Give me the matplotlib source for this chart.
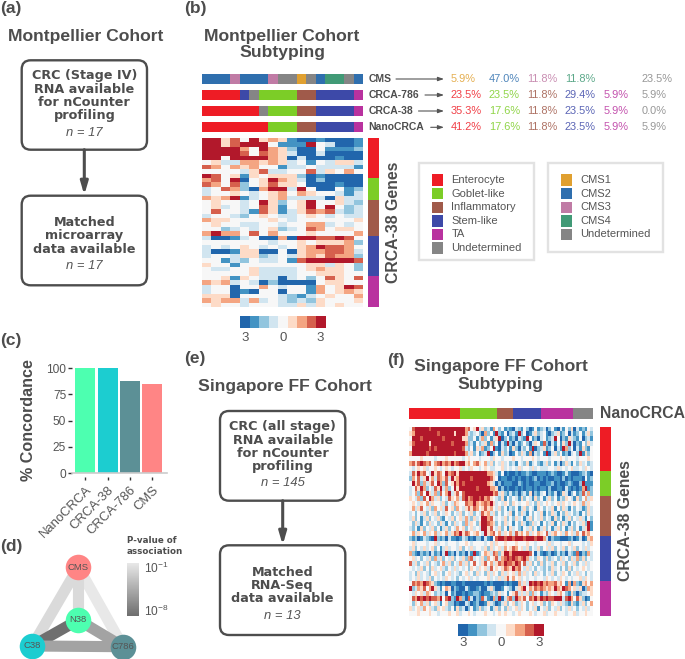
import numpy as np
import matplotlib
matplotlib.use("Agg")
import matplotlib.pyplot as plt
from matplotlib.colors import ListedColormap, LinearSegmentedColormap, Normalize
from matplotlib.patches import FancyBboxPatch, Rectangle

plt.rcParams["font.family"] = ["Liberation Sans", "DejaVu Sans"]
plt.rcParams["mathtext.fontset"] = "custom"
plt.rcParams["mathtext.rm"] = "Liberation Sans"

W, H = 685, 659
TXT = "#4d4d4d"

# data --------------------------------------------------------------------
SUB_COL = {"Enterocyte": "#ee1c25", "Goblet-like": "#7ccd27", "Inflammatory": "#a05a4a",
           "Stem-like": "#3d49a8", "TA": "#b9329f", "Undetermined": "#858585"}
CMS_COL = {"CMS1": "#e0a030", "CMS2": "#2f6fae", "CMS3": "#c07ba5", "CMS4": "#419a76",
           "Undetermined": "#858585"}
HEAT = ["#2166ac", "#4393c3", "#92c5de", "#d1e5f0", "#f7f7f7",
        "#fddbc7", "#f4a582", "#d6604d", "#b2182b"]

# (label, run length) along the 17 Montpellier samples
bar_cms = [("CMS2", 3), ("CMS3", 1), ("CMS2", 3), ("CMS3", 1), ("Undetermined", 2), ("CMS1", 1),
           ("Undetermined", 1), ("CMS2", 1), ("CMS4", 2), ("Undetermined", 1), ("CMS2", 1)]
bar_786 = [("Enterocyte", 4), ("Stem-like", 1), ("Undetermined", 1), ("Goblet-like", 4),
           ("Inflammatory", 2), ("Stem-like", 4), ("TA", 1)]
bar_38 = [("Enterocyte", 6), ("Undetermined", 1), ("Goblet-like", 3),
          ("Inflammatory", 2), ("Stem-like", 4), ("TA", 1)]
bar_nano = [("Enterocyte", 7), ("Goblet-like", 3), ("Inflammatory", 2), ("Stem-like", 4), ("TA", 1)]
bar_sing = [("Enterocyte", 40), ("Goblet-like", 29), ("Inflammatory", 13),
            ("Stem-like", 22), ("TA", 25), ("Undetermined", 16)]
gene_groups = [("Enterocyte", 9), ("Goblet-like", 5), ("Inflammatory", 8), ("Stem-like", 9), ("TA", 7)]

row_names = ["CMS", "CRCA-786", "CRCA-38", "NanoCRCA"]
pct_cms = ["5.9%", "47.0%", "11.8%", "11.8%", "", "23.5%"]
pct_786 = ["23.5%", "23.5%", "11.8%", "29.4%", "5.9%", "5.9%"]
pct_38 = ["35.3%", "17.6%", "11.8%", "23.5%", "5.9%", "0.0%"]
pct_nano = ["41.2%", "17.6%", "11.8%", "23.5%", "5.9%", "5.9%"]

concord_names = ["NanoCRCA", "CRCA-38", "CRCA-786", "CMS"]
concord_vals = [100, 100, 87.5, 84.6]
concord_cols = ["#4dffb0", "#1ccdd0", "#5c9096", "#ff8585"]

# log10 p-value of each pair of classifiers
edge_pairs = [("CMS", "C38"), ("CMS", "C786"), ("CMS", "N38"),
              ("N38", "C38"), ("N38", "C786"), ("C38", "C786")]
edge_logp = [-1.8, -1.0, -1.8, -8.0, -5.0, -5.0]

# expression levels 0 (deep blue) .. 8 (deep red), one string per gene
heat_mont = [
    "88574856510010001", "88578884111843001", "88886486520041112", "88887476530030000",
    "88488886503000100", "45336656534143553", "76465644133433331", "44443573344735464",
    "87451545552010000", "67480458653020000", "76472457554000100", "34762068838400412",
    "34454345646544313", "65681345633330533", "45443485245844532", "45343475145848423",
    "47443175135767323", "34432454334543433", "65544445434444445", "45443344344663434",
    "44234345234764554", "68664746444544446", "30013400608877874", "44444443445455562",
    "34345434345687764", "30015500405667763", "34435523435657662", "44132433417888887",
    "54414444444553542", "43344533334565542", "44444533334455544", "44515433034247547",
    "65634302000045544", "34404464344164587", "34401044044164565", "55504444321345446",
    "65663634323254445", "45443444335354544",
]
# coarse reading of the Singapore heatmap (about two samples per character)
heat_sing = [
    "478888878888 888888886745 835231642412 103214201412 302410314250 312143",
    "568888888878 888858886323 420624182140 231824013523 410235124031 241352",
    "488878888888 788888855224 136241358024 120321841203 412384021532 140231",
    "578888858888 888788886231 423516240318 203124203541 720314152830 214253",
    "488888878788 888888873241 536124810324 152032418023 512403186240 315214",
    "688888788888 888878886352 412380241523 014253160324 180352412034 281524",
    "444454444344 454444434544 434443544344 454434445434 443444543444 344454",
    "675787674678 676867885646 754635243534 231432513421 352413025314 253423",
    "434545344543 454344534354 434543344534 343534435343 334435343453 343543",
    "375867438576 486785888888 888866531401 001011210011 101210013100 012310",
    "264735846376 573856888878 888887540110 010100101201 010011020101 110412",
    "485726357486 274586878888 888865302011 100210100110 011201001210 028111",
    "347586243758 362485888888 788886650201 001010110101 102001103101 016812",
    "346274853627 468357478888 888888673521 312023150213 402130153024 127362",
    "543627486352 437546378678 878675432514 243152431524 135241325431 524635",
    "454354635443 524365447668 656768534354 254344534253 454345354345 436354",
    "463574352645 374526435757 645756435241 324135243154 243514253142 431253",
    "342435243524 354243524352 437563524243 514253142435 142531425342 314253",
    "352413524352 143524536325 348867434352 425341352435 243152413524 353142",
    "425314253425 314253426354 258876524253 414253125341 423514253142 435281",
    "324152435241 352436452453 438857435241 534214352413 524135241352 413581",
    "463546354635 463576857645 643856746354 637564635465 473564536453 647564",
    "212013210821 203110132010 220310478878 878887888788 630211000120 130156",
    "453444344534 434443445434 444345354454 445444544344 435344344534 443435",
    "352435345241 353443524353 443525345364 576453524352 453524352435 243534",
    "621021203120 381203120318 124653762588 688888874031 012013120321 702163",
    "453424352635 243524352673 435264573678 787678634254 252342534253 625243",
    "735243524324 635243635247 435746357687 768747352425 243524352435 243534",
    "434352425345 324353434254 354537454576 586743534243 242534242524 345434",
    "342534324534 245343245342 534253542535 453635342534 243524354243 534243",
    "343534352434 354342434534 344453435357 464534344344 354343543434 453543",
    "476768765210 100110010000 000101000010 100635387878 676675641606 215646",
    "823657468531 465021003100 120035200143 203568465767 656586587645 350265",
    "435453654232 304120010112 210112325341 457353526341 325435642152 023345",
    "476878787768 478218620730 217310628036 728657476868 787788837864 752014",
    "425463524531 452201003201 200153201352 452354245345 242543532152 135246",
    "534536453254 532415230241 252341352425 345354243514 352435243534 243534",
    "444544454434 445445344543 444544345454 434544454344 534454443445 344544",
]

box_a1 = ["CRC (Stage IV)", "RNA available", "for nCounter", "profiling"]
box_a2 = ["Matched", "microarray", "data available"]
box_e1 = ["CRC (all stage)", "RNA available", "for nCounter", "profiling"]
box_e2 = ["Matched", "RNA-Seq", "data available"]


# helpers -----------------------------------------------------------------
fig = plt.figure(figsize=(W / 100, H / 100), dpi=100)
bg = fig.add_axes([0, 0, 1, 1])
bg.set_xlim(0, W)
bg.set_ylim(H, 0)
bg.axis("off")


def px_axes(x0, y0, x1, y1):
    # axes placed with pixel coordinates, y going down
    ax = fig.add_axes([x0 / W, 1 - y1 / H, (x1 - x0) / W, (y1 - y0) / H])
    ax.set_xticks([])
    ax.set_yticks([])
    for s in ax.spines.values():
        s.set_visible(False)
    return ax


def parse(rows):
    return np.array([[int(c) for c in r.replace(" ", "")] for r in rows])


def heatmap(rect, rows):
    ax = px_axes(*rect)
    ax.imshow(parse(rows), cmap=ListedColormap(HEAT), vmin=-0.5, vmax=8.5,
              aspect="auto", interpolation="nearest")


def strip(rect, runs, cols, vertical=False):
    # a band of classes: runs are (class, number of samples)
    names = list(cols)
    seq = [names.index(n) for n, k in runs for _ in range(k)]
    arr = np.array(seq)[:, None] if vertical else np.array(seq)[None, :]
    ax = px_axes(*rect)
    ax.imshow(arr, cmap=ListedColormap([cols[n] for n in names]), vmin=-0.5,
              vmax=len(names) - 0.5, aspect="auto", interpolation="nearest")


def colorbar(rect, xt, yt):
    ax = px_axes(*rect)
    ax.imshow(np.arange(9)[None, :], cmap=ListedColormap(HEAT), aspect="auto")
    for x, s in zip(xt, ["3", "0", "3"]):
        bg.text(x, yt, s, ha="center", va="center", fontsize=9.5, color="#555555")


def flow(x0, y0, x1, y1, lines, line_y, n_text, n_y):
    bg.add_patch(FancyBboxPatch((x0 + 9, y0 + 9), x1 - x0 - 18, y1 - y0 - 18,
                                boxstyle="round,pad=9,rounding_size=9",
                                fc="white", ec=TXT, lw=1.7))
    xc = (x0 + x1) / 2
    for s, y in zip(lines, line_y):
        bg.text(xc, y, s, ha="center", va="center", family="DejaVu Sans",
                fontweight="bold", fontsize=9.2, color=TXT)
    bg.text(xc, n_y, n_text, ha="center", va="center", style="italic",
            fontsize=9.4, color="#555555")


def down_arrow(x, y0, y1):
    bg.annotate("", xy=(x, y1), xytext=(x, y0),
                arrowprops=dict(arrowstyle="-|>,head_length=0.75,head_width=0.22",
                                color=TXT, lw=2.2, shrinkA=0, shrinkB=0))


def title(x, y, s, size=12.6):
    bg.text(x, y, s, ha="center", va="center", fontweight="bold", fontsize=size, color=TXT)


# panel letters -----------------------------------------------------------
for s, x, y in [("(a)", 0, 9), ("(b)", 184, 9), ("(c)", 0, 341), ("(d)", 0, 546),
                ("(e)", 184, 358), ("(f)", 387, 361)]:
    bg.text(x, y, s, ha="left", va="center", fontweight="bold", fontsize=12.5, color=TXT)

# (a) and (e) flow charts -------------------------------------------------
title(86, 36, "Montpellier Cohort")
flow(21.7, 60.3, 147, 149.7, box_a1, [76, 89.3, 102.7, 116], "n = 17", 132.7)
flow(21.7, 195.7, 147, 285.3, box_a2, [222.3, 236, 249.3], "n = 17", 265.7)
down_arrow(84.3, 149.7, 195)

title(284.7, 386.7, "Singapore FF Cohort")
flow(220, 411, 345.3, 500.7, box_e1, [426.7, 440, 453.3, 466.7], "n = 145", 483.3)
flow(220, 545.3, 345.3, 635, box_e2, [572, 585.7, 599], "n = 13", 615.7)
down_arrow(282.7, 500.7, 545)

# (b) -----------------------------------------------------------------------
title(282, 36, "Montpellier Cohort")
title(282, 53, "Subtyping")
strip((202, 74, 363, 84.3), bar_cms, CMS_COL)
strip((202, 90, 363, 100.3), bar_786, SUB_COL)
strip((202, 106, 363, 116.5), bar_38, SUB_COL)
strip((202, 122, 363, 132.5), bar_nano, SUB_COL)
heatmap((202, 138, 363, 307), heat_mont)
strip((368.3, 138, 378.7, 307), gene_groups, SUB_COL, vertical=True)
colorbar((239.7, 316, 325.7, 328), [245, 283, 320], 338)
bg.text(394, 222.5, "CRCA-38 Genes", rotation=90, ha="center", va="center",
        fontweight="bold", fontsize=11.4, color=TXT)

row_y = [79, 95, 111, 127.3]
arrow_from = [396, 425, 418.5, 430.7]
col_x = [450.7, 489, 526.7, 565, 603.3, 641.7]
sub_list = list(SUB_COL.values())
cms_list = [CMS_COL["CMS1"], CMS_COL["CMS2"], CMS_COL["CMS3"], CMS_COL["CMS4"],
            "#ffffff", CMS_COL["Undetermined"]]
for name, y, x0, vals, cols in zip(row_names, row_y, arrow_from,
                                   [pct_cms, pct_786, pct_38, pct_nano],
                                   [cms_list, sub_list, sub_list, sub_list]):
    bg.text(368.3, y, name, ha="left", va="center", fontweight="bold", fontsize=7.5, color=TXT)
    bg.annotate("", xy=(444, y), xytext=(x0, y),
                arrowprops=dict(arrowstyle="-|>,head_length=0.35,head_width=0.12",
                                color="#555555", lw=0.8, shrinkA=0, shrinkB=0))
    for x, v, c in zip(col_x, vals, cols):
        bg.text(x, y, v, ha="left", va="center", fontsize=7.9, color=c, alpha=0.85)

# legends
bg.add_patch(Rectangle((419.3, 163.3), 115, 97, fc="white", ec="#e2e2e2", lw=1.7))
bg.add_patch(Rectangle((548.3, 163.3), 115, 88.4, fc="white", ec="#e2e2e2", lw=1.7))
leg_y = [180, 193.7, 207.3, 221, 234.3, 248]
for (name, c), y in zip(SUB_COL.items(), leg_y):
    bg.add_patch(Rectangle((432, y - 5.6), 11.3, 11.3, fc=c, ec="none"))
    bg.text(451.3, y, name, ha="left", va="center", fontsize=8, color="#555555")
for (name, c), y in zip(CMS_COL.items(), leg_y):
    bg.add_patch(Rectangle((561, y - 5.6), 11.3, 11.3, fc=c, ec="none"))
    bg.text(580.3, y, name, ha="left", va="center", fontsize=8, color="#555555")

# (c) ------------------------------------------------------------------------
axc = px_axes(71.7, 368, 166.7, 473.3)
axc.bar(range(4), concord_vals, width=0.895, color=concord_cols)
axc.set_xlim(-0.61, 3.65)
axc.set_ylim(0, 100)
axc.axhline(0, color="#cccccc", lw=1.2, clip_on=False)
axc.spines["left"].set_visible(False)
axc.spines["bottom"].set_visible(True)
axc.spines["bottom"].set_color("none")
axc.spines["bottom"].set_position(("outward", 3))
axc.set_yticks([0, 25, 50, 75, 100])
axc.set_xticks(range(4))
axc.set_xticklabels(concord_names, rotation=45, ha="right", rotation_mode="anchor")
axc.tick_params(axis="y", length=3, width=1, color="#333333", labelcolor="#555555",
                labelsize=8.6, pad=1)
axc.tick_params(axis="x", length=2.5, width=1, color="#333333", labelcolor="#555555",
                labelsize=9.4, pad=2)
bg.text(29, 420, "% Concordance", rotation=90, ha="center", va="center",
        fontweight="bold", fontsize=11.6, color=TXT)

# (d) ------------------------------------------------------------------------
nodes = {"CMS": (78.3, 567.3), "N38": (78.3, 620), "C38": (32.3, 646), "C786": (123, 646.7)}
node_cols = {"CMS": "#ff8585", "N38": "#4dffb0", "C38": "#1ccdd0", "C786": "#5c9096"}
grey = LinearSegmentedColormap.from_list("pv", ["#6f6f6f", "#e8e8e8"])
pnorm = Normalize(-8, -1)
for (a, b), p in zip(edge_pairs, edge_logp):
    bg.plot([nodes[a][0], nodes[b][0]], [nodes[a][1], nodes[b][1]], color=grey(pnorm(p)),
            lw=8, solid_capstyle="butt", zorder=2)
for n, (x, y) in nodes.items():
    bg.plot(x, y, "o", ms=18.4, mfc=node_cols[n], mec="none", zorder=3)
    bg.text(x, y, n, ha="center", va="center", fontsize=6.8, color="#555555", zorder=4)

axd = px_axes(127, 563.3, 138.7, 616)
axd.imshow(np.linspace(-1, -8, 64)[:, None], cmap=grey, norm=pnorm, aspect="auto")
bg.text(127, 540.5, "P-value of", ha="left", va="center", family="DejaVu Sans",
        fontweight="bold", fontsize=6.3, color=TXT)
bg.text(127, 551.5, "association", ha="left", va="center", family="DejaVu Sans",
        fontweight="bold", fontsize=6.3, color=TXT)
bg.text(144, 568, r"$\mathregular{10^{-1}}$", ha="left", va="center", fontsize=8.6, color="#555555")
bg.text(144, 611, r"$\mathregular{10^{-8}}$", ha="left", va="center", fontsize=8.6, color="#555555")

# (f) ------------------------------------------------------------------------
title(500.8, 367, "Singapore FF Cohort")
title(500.8, 384, "Subtyping")
strip((409, 408, 592.7, 419.3), bar_sing, SUB_COL)
heatmap((409, 426.7, 592.7, 615.7), heat_sing)
strip((600, 426.7, 611, 615.7), gene_groups, SUB_COL, vertical=True)
colorbar((458, 624, 544, 636), [463, 501, 539], 643)
bg.text(600, 413.3, "NanoCRCA", ha="left", va="center", fontweight="bold", fontsize=11.3, color=TXT)
bg.text(625.7, 521, "CRCA-38 Genes", rotation=90, ha="center", va="center",
        fontweight="bold", fontsize=11.3, color=TXT)

fig.savefig("out.png", dpi=100)
